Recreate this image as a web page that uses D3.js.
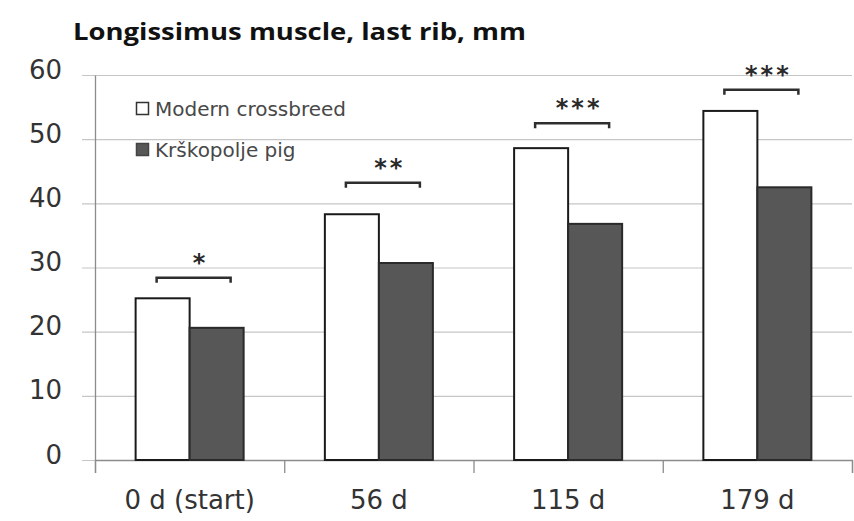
<!DOCTYPE html>
<html>
<head>
<meta charset="utf-8">
<script src="https://cdn.jsdelivr.net/npm/d3@7/dist/d3.min.js"></script>
<style>
  html, body { margin: 0; padding: 0; background: #fff; }
  svg { display: block; }
</style>
</head>
<body>
<svg id="chart" width="854" height="521"></svg>
<script>
// Longissimus muscle depth at the last rib, by age and breed
const categories = ["0 d (start)", "56 d", "115 d", "179 d"];
const seriesNames = ["Modern crossbreed", "Krškopolje pig"];
const modernValues = [25.2, 38.3, 48.6, 54.4];
const krskopoljeValues = [20.6, 30.7, 36.8, 42.5];
const significance = ["*", "**", "***", "***"];
const bracketLevels = [28.4, 43.2, 52.5, 57.7];
const yTicks = [0, 10, 20, 30, 40, 50, 60];
const titleText = "Longissimus muscle, last rib, mm";

const svg = d3.select("#chart");
const plotLeft = 95, plotRight = 852, plotTop = 75, plotBottom = 460;

const x = d3.scaleBand().domain(categories).range([plotLeft, plotRight]).padding(0);
const x1 = d3.scaleBand().domain(seriesNames).range([0, x.bandwidth()]).paddingInner(0).paddingOuter(0.752);
const y = d3.scaleLinear().domain([0, 60]).range([plotBottom, plotTop]);

const colors = { "Modern crossbreed": "#ffffff", "Krškopolje pig": "#575757" };
const strokes = { "Modern crossbreed": "#1a1a1a", "Krškopolje pig": "#2a2a2a" };

// horizontal gridlines (extend a little left of the axis, as tick marks)
const grid = svg.append("g").attr("transform", `translate(${plotLeft - 13},0)`)
  .call(d3.axisRight(y).tickValues(yTicks).tickSize(plotRight - plotLeft + 13).tickFormat(""));
grid.select(".domain").remove();
grid.selectAll(".tick line").attr("stroke", "#c6c6c6").attr("stroke-width", 1.2);

// category boundary ticks along the x axis
const boundary = d3.scaleLinear().domain([0, categories.length]).range([plotLeft, plotRight]);
const xTicks = svg.append("g").attr("transform", `translate(0,${plotBottom})`)
  .call(d3.axisBottom(boundary).ticks(categories.length).tickSize(13).tickFormat(""));
xTicks.select(".domain").attr("stroke", "#8c8c8c").attr("stroke-width", 1.3);
xTicks.selectAll(".tick line").attr("stroke", "#8c8c8c").attr("stroke-width", 1.3);

// y axis line and labels
const yAxis = svg.append("g").attr("transform", `translate(${plotLeft},0)`)
  .call(d3.axisLeft(y).tickValues(yTicks).tickSize(0).tickPadding(33));
yAxis.select(".domain").attr("stroke", "#8c8c8c").attr("stroke-width", 1.3);
yAxis.selectAll(".tick text")
  .attr("font-family", "DejaVu Sans").attr("font-size", 26).attr("fill", "#333")
  .attr("dy", "0.12em");

// x axis labels
const xAxis = svg.append("g").attr("transform", `translate(0,${plotBottom})`)
  .call(d3.axisBottom(x).tickSize(0).tickPadding(31));
xAxis.select(".domain").remove();
xAxis.selectAll(".tick text")
  .attr("font-family", "DejaVu Sans").attr("font-size", 26).attr("fill", "#333");

// bars
const rows = categories.map((c, i) => ({
  category: c,
  values: [
    { series: seriesNames[0], value: modernValues[i] },
    { series: seriesNames[1], value: krskopoljeValues[i] }
  ]
}));

const groups = svg.append("g").selectAll("g").data(rows).join("g")
  .attr("transform", d => `translate(${x(d.category)},0)`);

groups.selectAll("rect").data(d => d.values).join("rect")
  .attr("x", d => x1(d.series))
  .attr("width", x1.bandwidth())
  .attr("y", d => y(d.value))
  .attr("height", d => y(0) - y(d.value))
  .attr("fill", d => colors[d.series])
  .attr("stroke", d => strokes[d.series])
  .attr("stroke-width", 2);

// significance brackets and stars
const half = 37, drop = 5;
categories.forEach((c, i) => {
  const cx = x(c) + x.bandwidth() / 2 + 4;
  const yb = y(bracketLevels[i]);
  svg.append("path")
    .attr("d", `M${cx - half},${yb + drop}V${yb}H${cx + half}V${yb + drop}`)
    .attr("fill", "none").attr("stroke", "#2e2e2e").attr("stroke-width", 2.5);
  svg.append("text")
    .attr("x", cx + 7).attr("y", yb - 7)
    .attr("text-anchor", "middle")
    .attr("font-family", "DejaVu Sans").attr("font-weight", "bold")
    .attr("font-size", 24).attr("letter-spacing", 3)
    .attr("fill", "#2a2a2a")
    .text(significance[i]);
});

// legend
const legend = svg.append("g").attr("transform", "translate(136,0)");
const legendRows = [108.5, 149.5];
seriesNames.forEach((s, i) => {
  const cy = legendRows[i];
  legend.append("rect")
    .attr("x", 0.5).attr("y", cy - 6).attr("width", 12).attr("height", 12)
    .attr("fill", colors[s]).attr("stroke", i === 0 ? "#333" : "#444").attr("stroke-width", 1.5);
  legend.append("text")
    .attr("x", 19).attr("y", cy + 7)
    .attr("font-family", "DejaVu Sans").attr("font-size", 20).attr("fill", "#484848")
    .text(s);
});

// title
svg.append("text")
  .attr("x", 73).attr("y", 40)
  .attr("font-family", "Open Sans").attr("font-weight", "bold")
  .attr("font-size", 24).attr("fill", "#111")
  .attr("textLength", 453).attr("lengthAdjust", "spacingAndGlyphs")
  .text(titleText);
</script>
</body>
</html>
